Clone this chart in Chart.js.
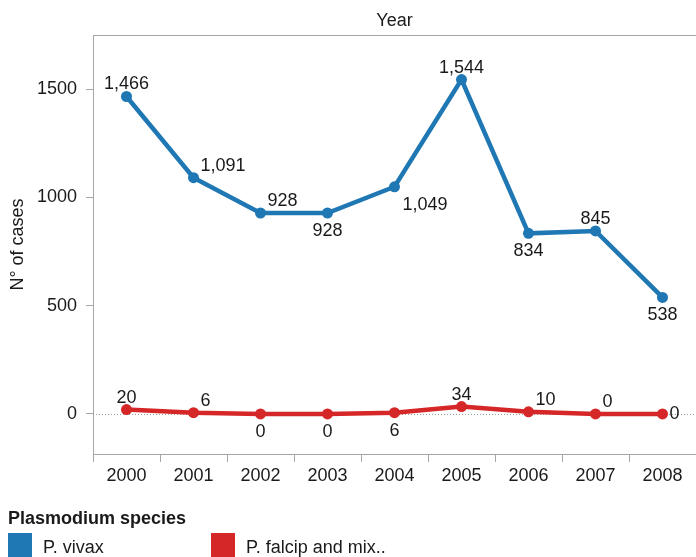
<!DOCTYPE html>
<html>
<head>
<meta charset="utf-8">
<script src="https://cdn.jsdelivr.net/npm/chart.js@4/dist/chart.umd.min.js"></script>
<style>
  html, body { margin: 0; padding: 0; background: #fff; }
  #wrap { width: 696px; height: 557px; position: relative; }
</style>
</head>
<body>
<div id="wrap"><canvas id="casesChart"></canvas></div>
<script>
// Данные графика
const years = ['2000', '2001', '2002', '2003', '2004', '2005', '2006', '2007', '2008'];
const vivaxCases = [1466, 1091, 928, 928, 1049, 1544, 834, 845, 538];
const falcipCases = [20, 6, 0, 0, 6, 34, 10, 0, 0];
const yTicks = [0, 500, 1000, 1500];

// где ставить подписи значений
const vivaxLabelPos = ['above', 'aboveRight', 'aboveRight', 'below', 'belowRight', 'above', 'below', 'above', 'below'];
const falcipLabelPos = ['above', 'aboveRight', 'below', 'below', 'below', 'above', 'aboveRight', 'aboveRight', 'right'];

const BLUE = '#1f77b4';
const RED = '#d62728';
const AXIS_GREY = '#a6a6a6';
const TEXT = '#1a1a1a';
const FONT = '"Liberation Sans", Arial, sans-serif';

// Подписи значений у точек
const pointLabels = {
    id: 'pointLabels',
    afterDatasetsDraw(chart) {
        const ctx = chart.ctx;
        ctx.save();
        ctx.font = '18px ' + FONT;
        ctx.fillStyle = TEXT;
        ctx.textBaseline = 'middle';
        chart.data.datasets.forEach((ds, di) => {
            const meta = chart.getDatasetMeta(di);
            meta.data.forEach((pt, i) => {
                const text = ds.data[i].toLocaleString('en-US');
                const pos = ds.labelPos[i];
                let x = pt.x, y = pt.y;
                ctx.textAlign = 'center';
                if (pos === 'above') { y -= 12; }
                else if (pos === 'below') { y += 18; }
                else if (pos === 'aboveRight') { x += 7; y -= 12; ctx.textAlign = 'left'; }
                else if (pos === 'belowRight') { x += 8; y += 18; ctx.textAlign = 'left'; }
                else if (pos === 'right') { x += 7; ctx.textAlign = 'left'; }
                ctx.fillText(text, x, y);
            });
        });
        ctx.restore();
    }
};

// Пунктирная линия нуля
const zeroLine = {
    id: 'zeroLine',
    beforeDatasetsDraw(chart) {
        const ctx = chart.ctx;
        const y = chart.scales.y.getPixelForValue(0);
        const area = chart.chartArea;
        ctx.save();
        ctx.strokeStyle = '#9a9a9a';
        ctx.lineWidth = 1;
        ctx.setLineDash([1, 2]);
        ctx.beginPath();
        ctx.moveTo(area.left, y + 0.5);
        ctx.lineTo(area.right, y + 0.5);
        ctx.stroke();
        ctx.restore();
    }
};

// Легенда снизу (рисуем вручную)
const bottomLegend = {
    id: 'bottomLegend',
    afterDraw(chart) {
        const ctx = chart.ctx;
        ctx.save();
        ctx.fillStyle = TEXT;
        ctx.textBaseline = 'middle';
        ctx.textAlign = 'left';
        ctx.font = 'bold 18px ' + FONT;
        ctx.fillText('Plasmodium species', 8, 519);
        const items = [
            { label: 'P. vivax', color: BLUE, x: 8 },
            { label: 'P. falcip and mix..', color: RED, x: 211 }
        ];
        ctx.font = '18px ' + FONT;
        items.forEach(it => {
            ctx.fillStyle = it.color;
            ctx.fillRect(it.x, 533, 24, 24);
            ctx.fillStyle = TEXT;
            ctx.fillText(it.label, it.x + 35, 548);
        });
        ctx.restore();
    }
};

const ctx = document.getElementById('casesChart').getContext('2d');
const casesChart = new Chart(ctx, {
    type: 'line',
    data: {
        labels: years,
        datasets: [
            {
                label: 'P. vivax',
                data: vivaxCases,
                labelPos: vivaxLabelPos,
                borderColor: BLUE,
                backgroundColor: BLUE,
                borderWidth: 4.5,
                pointRadius: 5.5,
                pointBorderWidth: 0,
                tension: 0
            },
            {
                label: 'P. falcip and mix..',
                data: falcipCases,
                labelPos: falcipLabelPos,
                borderColor: RED,
                backgroundColor: RED,
                borderWidth: 4.5,
                pointRadius: 5.5,
                pointBorderWidth: 0,
                tension: 0
            }
        ]
    },
    options: {
        responsive: true,
        maintainAspectRatio: false,
        animation: false,
        // справа область графика уходит чуть за край, как в оригинале
        layout: { autoPadding: false, padding: { left: 0, right: -4, top: 0, bottom: 63 } },
        plugins: {
            legend: { display: false },
            tooltip: { enabled: false }
        },
        scales: {
            x: {
                position: 'bottom',
                offset: true,
                grid: { offset: true, drawOnChartArea: false, tickLength: 8, color: AXIS_GREY },
                border: { color: AXIS_GREY, width: 1 },
                ticks: { color: TEXT, font: { family: FONT, size: 18 }, padding: 3, maxRotation: 0 },
                afterFit: s => { s.height = 40; }
            },
            xTop: {
                type: 'category',
                labels: years,
                position: 'top',
                grid: { display: false },
                border: { color: AXIS_GREY, width: 1 },
                ticks: { display: false },
                title: {
                    display: true,
                    text: 'Year',
                    color: TEXT,
                    font: { family: FONT, size: 18 },
                    padding: { top: 10, bottom: 0 }
                },
                afterFit: s => { s.height = 35; }
            },
            y: {
                min: -185,
                max: 1750,
                grid: { drawOnChartArea: false, tickLength: 7, color: AXIS_GREY },
                border: { color: AXIS_GREY, width: 1 },
                ticks: {
                    color: TEXT,
                    font: { family: FONT, size: 18 },
                    padding: 9,
                    callback: v => String(v)
                },
                afterBuildTicks: s => { s.ticks = yTicks.map(v => ({ value: v })); },
                title: {
                    display: true,
                    text: 'N° of cases',
                    color: TEXT,
                    font: { family: FONT, size: 18 },
                    padding: { top: 7, bottom: 0 }
                },
                afterFit: s => { s.width = 93; }
            }
        }
    },
    plugins: [zeroLine, pointLabels, bottomLegend]
});
</script>
</body>
</html>
